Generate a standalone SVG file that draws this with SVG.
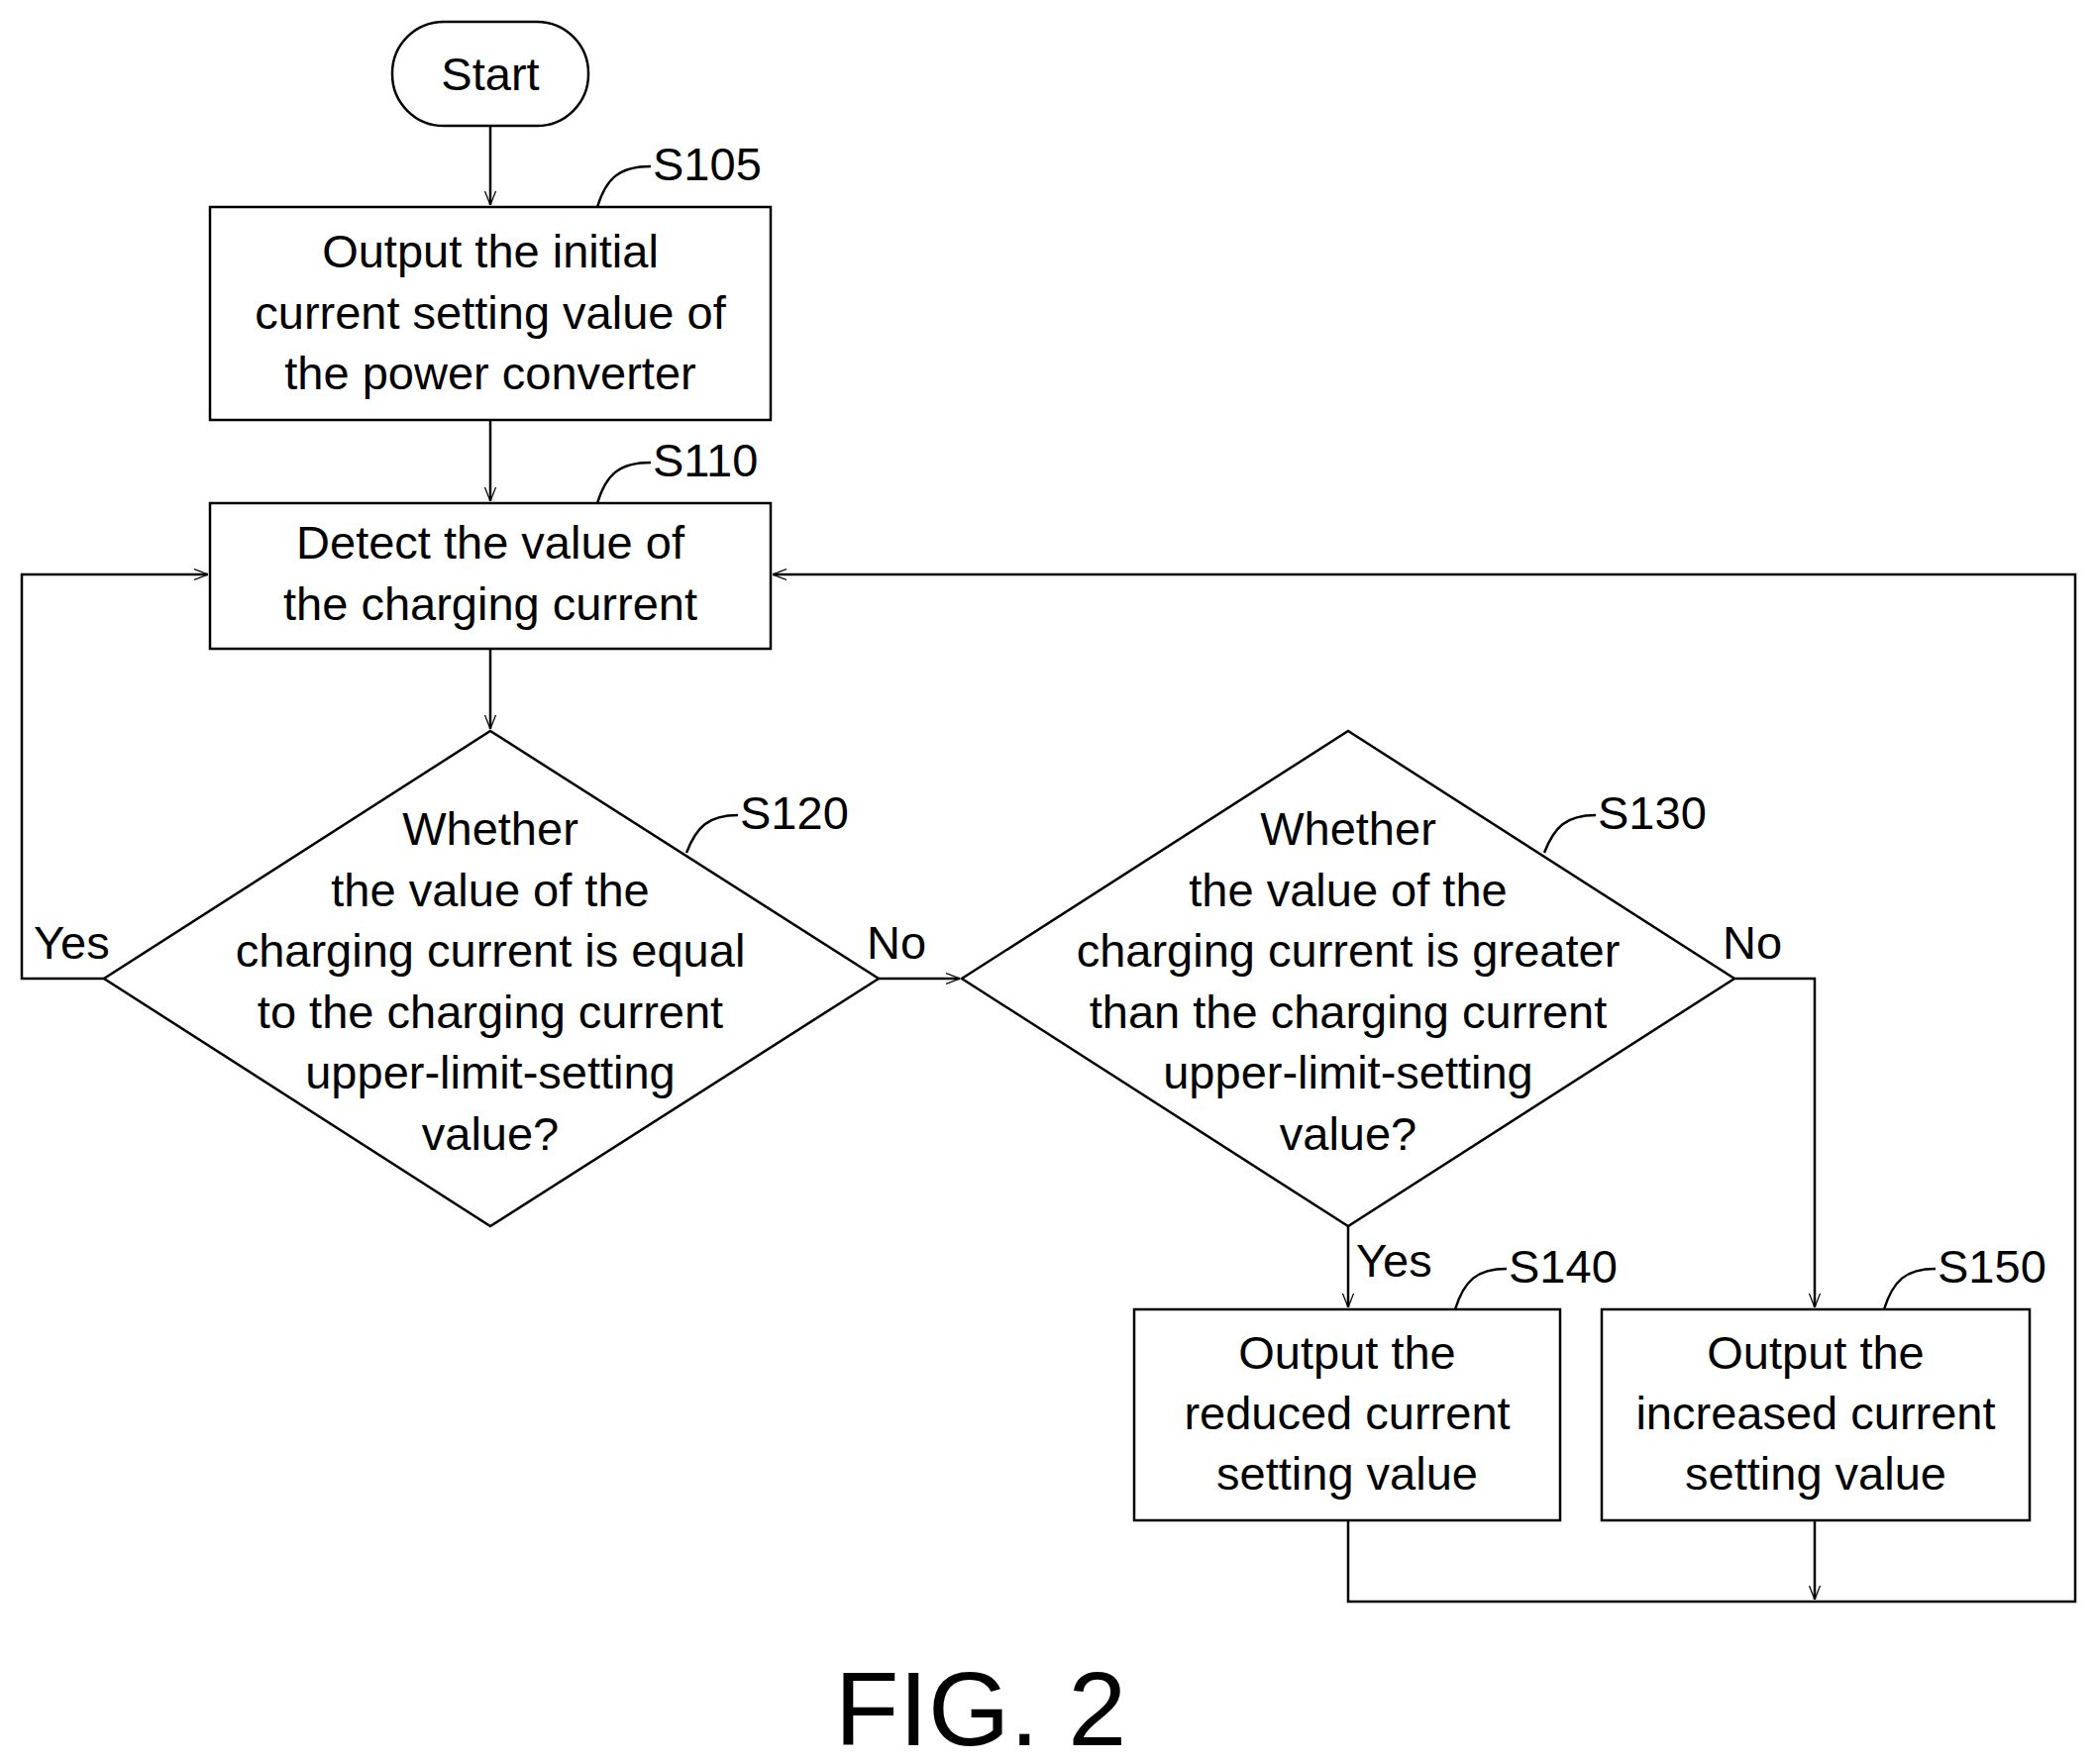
<svg xmlns="http://www.w3.org/2000/svg" width="2117" height="1781" viewBox="0 0 2117 1781">
<style>
.s{fill:none;stroke:#000;stroke-width:2.5}
.b{fill:#fff;stroke:#000;stroke-width:2.5}
text{font-family:"Liberation Sans",Arial,sans-serif;font-size:47px;fill:#000}
.c{text-anchor:middle}
</style>
<defs><marker id="a" markerWidth="14" markerHeight="22" refX="28" refY="11" viewBox="0 0 28 22" orient="auto" markerUnits="userSpaceOnUse"><path d="M0,0 L28,11 L0,22" fill="none" stroke="#000" stroke-width="2.5"/></marker></defs>
<rect width="2117" height="1781" fill="#fff"/>
<g id="connectors">
<path class="s" d="M495,127 V207" marker-end="url(#a)"/>
<path class="s" d="M495,424 V506" marker-end="url(#a)"/>
<path class="s" d="M495,655 V736" marker-end="url(#a)"/>
<path class="s" d="M105,988 H22 V580 H210" marker-end="url(#a)"/>
<path class="s" d="M887,988 H969" marker-end="url(#a)"/>
<path class="s" d="M1751,988 H1832 V1320" marker-end="url(#a)"/>
<path class="s" d="M1361,1238 V1320" marker-end="url(#a)"/>
<path class="s" d="M1832,1535 V1615" marker-end="url(#a)"/>
<path class="s" d="M1361,1535 V1617 H2095 V580 H780" marker-end="url(#a)"/>
</g>
<g id="start"><rect class="b" x="396" y="22" width="198" height="105" rx="52"/><text class="c" x="495" y="91">Start</text></g>
<g id="S105"><rect class="b" x="212" y="209" width="566" height="215"/>
<text class="c" x="495" y="270">Output the initial</text><text class="c" x="495" y="332">current setting value of</text><text class="c" x="495" y="393">the power converter</text>
<path class="s" d="M603,209 C612,180 625,168 657,168"/><text x="659" y="182">S105</text></g>
<g id="S110"><rect class="b" x="212" y="508" width="566" height="147"/>
<text class="c" x="495" y="564">Detect the value of</text><text class="c" x="495" y="626">the charging current</text>
<path class="s" d="M603,508 C612,479 625,467 657,467"/><text x="659" y="481">S110</text></g>
<g id="S120"><path class="b" d="M495,738 L887,988 L495,1238 L105,988 Z"/>
<text class="c" x="495" y="853">Whether</text><text class="c" x="495" y="915">the value of the</text><text class="c" x="495" y="976">charging current is equal</text><text class="c" x="495" y="1038">to the charging current</text><text class="c" x="495" y="1099">upper-limit-setting</text><text class="c" x="495" y="1161">value?</text>
<path class="s" d="M693,861 C703,835 715,823 745,823"/><text x="747" y="837">S120</text>
<text x="34" y="968">Yes</text><text x="875" y="968">No</text></g>
<g id="S130"><path class="b" d="M1361,738 L1751,988 L1361,1238 L971,988 Z"/>
<text class="c" x="1361" y="853">Whether</text><text class="c" x="1361" y="915">the value of the</text><text class="c" x="1361" y="976">charging current is greater</text><text class="c" x="1361" y="1038">than the charging current</text><text class="c" x="1361" y="1099">upper-limit-setting</text><text class="c" x="1361" y="1161">value?</text>
<path class="s" d="M1559,861 C1569,835 1581,823 1611,823"/><text x="1613" y="837">S130</text>
<text x="1739" y="968">No</text><text x="1369" y="1289">Yes</text></g>
<g id="S140"><rect class="b" x="1145" y="1322" width="430" height="213"/>
<text class="c" x="1360" y="1382">Output the</text><text class="c" x="1360" y="1443">reduced current</text><text class="c" x="1360" y="1504">setting value</text>
<path class="s" d="M1469,1322 C1478,1293 1491,1281 1521,1281"/><text x="1523" y="1295">S140</text></g>
<g id="S150"><rect class="b" x="1617" y="1322" width="432" height="213"/>
<text class="c" x="1833" y="1382">Output the</text><text class="c" x="1833" y="1443">increased current</text><text class="c" x="1833" y="1504">setting value</text>
<path class="s" d="M1902,1322 C1911,1293 1924,1281 1954,1281"/><text x="1956" y="1295">S150</text></g>
<text class="c" x="990" y="1762" style="font-size:106px">FIG. 2</text>
</svg>
